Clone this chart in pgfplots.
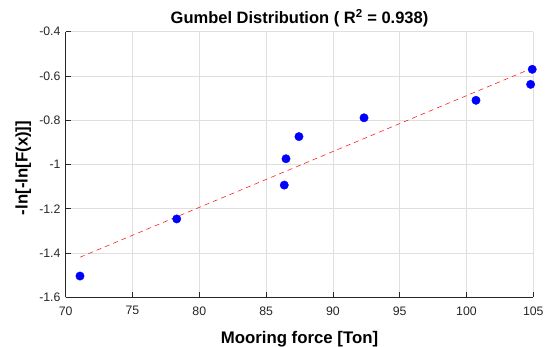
\documentclass[border=0pt]{standalone}
\usepackage{pgfplots}
\pgfplotsset{compat=1.18}
\usepackage{fontspec}
\setmainfont{Liberation Sans}
\definecolor{gridc}{RGB}{223,223,223}
\definecolor{axc}{RGB}{38,38,38}
\begin{document}
\begin{tikzpicture}
\begin{axis}[
  scale only axis,
  width=467.6pt, height=265.6pt,
  xmin=70, xmax=105, ymin=-1.6, ymax=-0.4,
  xtick={70,75,...,105},
  ytick={-1.6,-1.4,-1.2,-1,-0.8,-0.6,-0.4},
  yticklabels={-1.6,-1.4,-1.2,-1,-0.8,-0.6,-0.4},
  xticklabels={70,75,80,85,90,95,100,105},
  axis lines*=left,
  axis line style={axc, line width=0.6pt},
  tick style={axc, line width=0.6pt},
  tick align=inside,
  major tick length=5pt,
  grid=major,
  major grid style={gridc, line width=0.6pt},
  ticklabel style={font=\fontsize{12.3}{14}\selectfont, text=axc},
  xticklabel style={inner sep=1pt, yshift=-8pt},
  yticklabel style={inner sep=1pt, xshift=-4pt},
  title={\textbf{Gumbel Distribution ( R\textsuperscript{2} = 0.938)}},
  title style={font=\fontsize{16.5}{18}\selectfont, at={(axis description cs:0.5,1)}, anchor=south, yshift=-5pt},
  xlabel={\textbf{Mooring force [Ton]}},
  ylabel={\textbf{-ln[-ln[F(x)]]}},
  label style={font=\fontsize{16.8}{18}\selectfont},
  xlabel style={at={(axis description cs:0.5,0)}, anchor=north, yshift=-30pt},
  ylabel style={at={(axis description cs:0,0.487)}, anchor=south, yshift=31pt},
  clip=false,
]
\addplot[red, line width=0.5pt, dash pattern=on 5pt off 4pt] coordinates {(71.07,-1.419) (104.92,-0.565)};
\addplot[only marks, mark=*, mark size=4.2pt, mark options={fill=blue, draw=blue}] coordinates {
(71.07,-1.504) (78.31,-1.246) (86.36,-1.093) (86.49,-0.974) (87.46,-0.874)
(92.33,-0.789) (100.71,-0.710) (104.80,-0.638) (104.92,-0.570)};
\end{axis}
\pgfresetboundingbox
\path ([shift={(-65.7pt,-49.7pt)}]current axis.south west) rectangle ([shift={(14.7pt,31.7pt)}]current axis.north east);
\end{tikzpicture}
\end{document}
